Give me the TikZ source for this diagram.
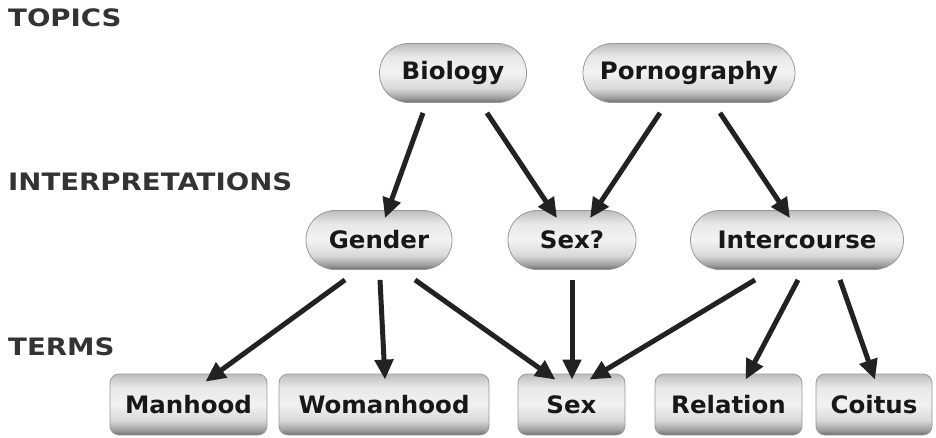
\documentclass[tikz,border=0pt]{standalone}
\usepackage{fontspec}
\setmainfont{DejaVu Sans}
\newfontfamily\headfont[FakeStretch=1.15]{DejaVu Sans}
\newfontfamily\boxfont[FakeStretch=1.02]{DejaVu Sans}
\usetikzlibrary{arrows.meta}
\definecolor{arrowc}{HTML}{222222}
\definecolor{txtc}{HTML}{181818}
\definecolor{headc}{HTML}{333333}
\pgfdeclareverticalshading{btnshade}{100bp}{color(0bp)=(black!58); color(25bp)=(black!58); color(29bp)=(black!38); color(37bp)=(black!15); color(50bp)=(black!5); color(64bp)=(black!9); color(75bp)=(black!26); color(100bp)=(black!26)}
\tikzset{
  boxbase/.style={draw=black!40, line width=0.8pt, shading=btnshade,
    text=txtc, font=\boxfont\fontsize{24}{28}\selectfont\bfseries, inner sep=0pt},
  pill/.style={boxbase, rounded corners=29pt, minimum height=59pt},
  termbox/.style={boxbase, rounded corners=9pt, minimum height=61pt},
  heading/.style={anchor=west, text=headc, font=\headfont\fontsize{24}{28}\selectfont\bfseries, inner sep=0pt},
  arr/.style={draw=arrowc, line width=5pt, -{Triangle[length=20pt,width=18pt]}}
}
\begin{document}
\begin{tikzpicture}[x=1pt,y=-1pt]
\useasboundingbox (0,0) rectangle (936,437);
% headings
\node[heading] (htopics) at (8,17.5) {TOPICS};
\node[heading] (hinterp) at (8,182) {INTERPRETATIONS};
\node[heading] (hterms) at (8,347) {TERMS};
% topics
\node[pill, minimum width=147pt] (bio) at (453,73) {Biology};
\node[pill, minimum width=212pt] (porn) at (689,73) {Pornography};
% interpretations
\node[pill, minimum width=146pt] (gender) at (379,240) {Gender};
\node[pill, minimum width=128pt] (sexq) at (572,240) {Sex?};
\node[pill, minimum width=213pt] (inter) at (797,240) {Intercourse};
% terms
\node[termbox, minimum width=157pt] (manhood) at (188.5,404.5) {Manhood};
\node[termbox, minimum width=210pt] (womanhood) at (384,404.5) {Womanhood};
\node[termbox, minimum width=107pt] (sex) at (571.5,404.5) {Sex};
\node[termbox, minimum width=147pt] (relation) at (728.5,404.5) {Relation};
\node[termbox, minimum width=116pt] (coitus) at (874,404.5) {Coitus};
% connectors
\draw[arr] ([xshift=-30pt,yshift=-10pt]bio.south) -- ([xshift=6pt,yshift=-8pt]gender.north);
\draw[arr] ([xshift=34pt,yshift=-10pt]bio.south) -- ([xshift=-15pt,yshift=-8pt]sexq.north);
\draw[arr] ([xshift=-29pt,yshift=-10pt]porn.south) -- ([xshift=18pt,yshift=-8pt]sexq.north);
\draw[arr] ([xshift=31pt,yshift=-10pt]porn.south) -- ([xshift=-7pt,yshift=-8pt]inter.north);
\draw[arr] ([xshift=-34pt,yshift=-10pt]gender.south) -- ([xshift=17pt,yshift=-8pt]manhood.north);
\draw[arr] ([xshift=1pt,yshift=-10pt]gender.south) -- ([xshift=1pt,yshift=-6pt]womanhood.north);
\draw[arr] ([xshift=36pt,yshift=-10pt]gender.south) -- ([xshift=-16pt,yshift=-6pt]sex.north);
\draw[arr] ([yshift=-10pt]sexq.south) -- ([xshift=0.5pt,yshift=-6pt]sex.north);
\draw[arr] ([xshift=-42pt,yshift=-10pt]inter.south) -- ([xshift=18pt,yshift=-6pt]sex.north);
\draw[arr] ([xshift=1pt,yshift=-10pt]inter.south) -- ([xshift=17pt,yshift=-6pt]relation.north);
\draw[arr] ([xshift=43pt,yshift=-10pt]inter.south) -- ([xshift=1pt,yshift=-6pt]coitus.north);
\end{tikzpicture}
\end{document}
